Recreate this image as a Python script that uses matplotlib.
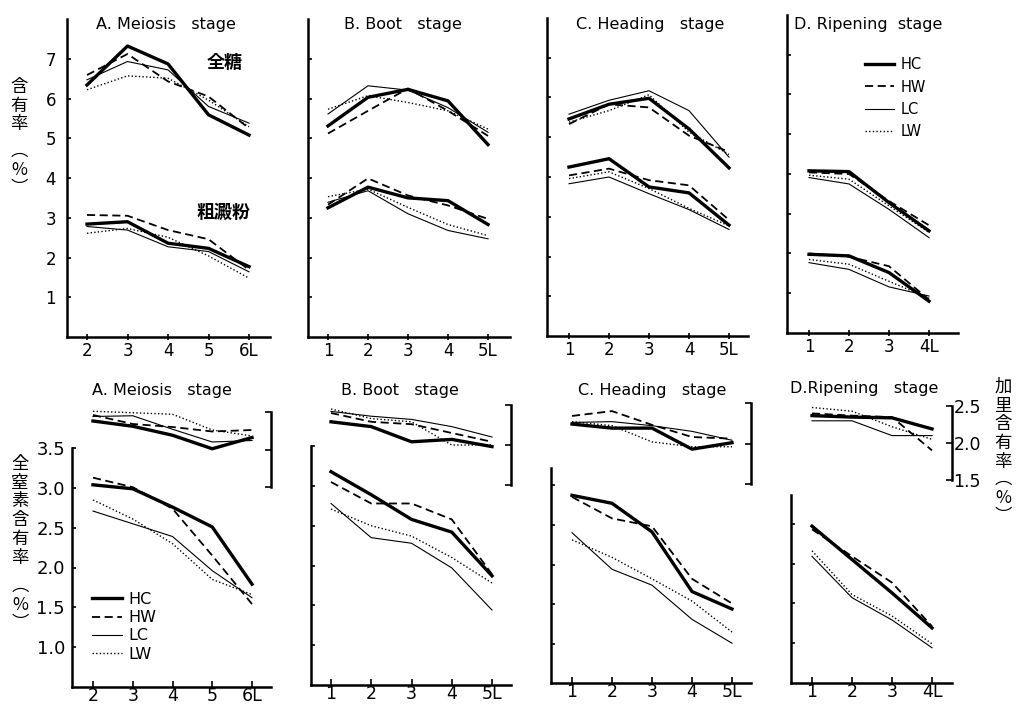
import matplotlib
matplotlib.use("Agg")
import matplotlib.pyplot as plt

plt.rcParams['font.family'] = ['DejaVu Sans', 'Noto Sans CJK JP']

# leaf positions (x axis) for each stage
leaf_A = [2, 3, 4, 5, 6]
leaf_A_labels = ["2", "3", "4", "5", "6L"]
leaf_B = [1, 2, 3, 4, 5]
leaf_B_labels = ["1", "2", "3", "4", "5L"]
leaf_C = [1, 2, 3, 4, 5]
leaf_C_labels = ["1", "2", "3", "4", "5L"]
leaf_D = [1, 2, 3, 4]
leaf_D_labels = ["1", "2", "3", "4L"]

treatments = ["HC", "HW", "LC", "LW"]

# total sugar (%)
sugar_A = {"HC": [6.34, 7.32, 6.87, 5.59, 5.08], "HW": [6.59, 7.12, 6.43, 6.05, 5.25],
           "LC": [6.47, 6.93, 6.72, 5.80, 5.38], "LW": [6.22, 6.57, 6.51, 5.96, 5.29]}
sugar_B = {"HC": [5.31, 6.03, 6.23, 5.94, 4.84], "HW": [5.12, 5.69, 6.25, 5.69, 5.06],
           "LC": [5.61, 6.32, 6.21, 5.77, 5.15], "LW": [5.73, 6.07, 5.90, 5.69, 5.23]}
sugar_C = {"HC": [5.46, 5.83, 5.98, 5.21, 4.23], "HW": [5.33, 5.83, 5.75, 5.04, 4.63],
           "LC": [5.58, 5.93, 6.17, 5.67, 4.50], "LW": [5.38, 5.67, 6.07, 5.13, 4.57]}
sugar_D = {"HC": [4.08, 4.06, 3.28, 2.57], "HW": [4.04, 4.00, 3.32, 2.71],
           "LC": [3.91, 3.75, 3.11, 2.40], "LW": [3.97, 3.87, 3.20, 2.53]}

# crude starch (%)
starch_A = {"HC": [2.84, 2.90, 2.36, 2.23, 1.77], "HW": [3.07, 3.05, 2.69, 2.46, 1.69],
            "LC": [2.78, 2.69, 2.27, 2.15, 1.64], "LW": [2.61, 2.73, 2.51, 2.04, 1.48]}
starch_B = {"HC": [3.25, 3.77, 3.50, 3.43, 2.83], "HW": [3.33, 3.99, 3.56, 3.31, 2.97],
            "LC": [3.39, 3.68, 3.10, 2.68, 2.47], "LW": [3.53, 3.72, 3.26, 2.83, 2.55]}
starch_C = {"HC": [4.25, 4.46, 3.75, 3.60, 2.79], "HW": [4.04, 4.21, 3.92, 3.79, 2.92],
            "LC": [3.83, 4.00, 3.58, 3.18, 2.68], "LW": [3.96, 4.13, 3.71, 3.21, 2.77]}
starch_D = {"HC": [1.98, 1.94, 1.52, 0.80], "HW": [2.00, 1.92, 1.68, 0.84],
            "LC": [1.77, 1.60, 1.16, 0.93], "LW": [1.85, 1.73, 1.30, 0.88]}

# total nitrogen (%)
nitro_A = {"HC": [3.04, 2.99, 2.76, 2.51, 1.79], "HW": [3.13, 3.01, 2.74, 2.15, 1.54],
           "LC": [2.71, 2.55, 2.39, 1.96, 1.62], "LW": [2.85, 2.61, 2.30, 1.85, 1.66]}
nitro_B = {"HC": [3.18, 2.89, 2.58, 2.42, 1.87], "HW": [3.05, 2.78, 2.78, 2.58, 1.89],
           "LC": [2.78, 2.35, 2.28, 1.97, 1.44], "LW": [2.71, 2.50, 2.37, 2.10, 1.78]}
nitro_C = {"HC": [2.87, 2.77, 2.41, 1.66, 1.44], "HW": [2.85, 2.58, 2.48, 1.82, 1.51],
           "LC": [2.40, 1.94, 1.74, 1.31, 1.01], "LW": [2.31, 2.09, 1.82, 1.54, 1.15]}
nitro_D = {"HC": [2.47, 2.05, 1.63, 1.19], "HW": [2.43, 2.09, 1.76, 1.21],
           "LC": [2.09, 1.57, 1.29, 0.94], "LW": [2.16, 1.61, 1.34, 0.99]}

# potassium (%)
potas_A = {"HC": [2.38, 2.31, 2.19, 2.01, 2.16], "HW": [2.46, 2.34, 2.30, 2.24, 2.26],
           "LC": [2.44, 2.45, 2.27, 2.10, 2.12], "LW": [2.51, 2.49, 2.47, 2.26, 2.18]}
potas_B = {"HC": [2.29, 2.23, 2.04, 2.07, 1.98], "HW": [2.40, 2.29, 2.26, 2.15, 2.04],
           "LC": [2.42, 2.36, 2.32, 2.23, 2.10], "LW": [2.45, 2.33, 2.29, 2.00, 2.00]}
potas_C = {"HC": [2.24, 2.19, 2.19, 1.93, 2.01], "HW": [2.34, 2.40, 2.23, 2.08, 2.06],
           "LC": [2.26, 2.27, 2.22, 2.15, 2.04], "LW": [2.27, 2.22, 2.02, 1.96, 1.96]}
potas_D = {"HC": [2.37, 2.35, 2.34, 2.19], "HW": [2.40, 2.37, 2.35, 1.90],
           "LC": [2.30, 2.30, 2.10, 2.10], "LW": [2.48, 2.43, 2.22, 2.05]}

titles_top = ["A. Meiosis   stage", "B. Boot   stage", "C. Heading   stage", "D. Ripening  stage"]
titles_bot = ["A. Meiosis   stage", "B. Boot   stage", "C. Heading   stage", "D.Ripening   stage"]

styles = {
    "HC": dict(color="black", lw=2.4, ls="-"),
    "HW": dict(color="black", lw=1.3, ls=(0, (4.5, 2.5))),
    "LC": dict(color="black", lw=0.8, ls="-"),
    "LW": dict(color="black", lw=1.0, ls=(0, (1, 1.6))),
}

W, H = 1021, 706
fig = plt.figure(figsize=(W / 100, H / 100), dpi=100)
cjk = ['Noto Sans CJK JP', 'DejaVu Sans']


def px_axes(left, right, top, bottom):
    return fig.add_axes([left / W, 1 - bottom / H, (right - left) / W, (bottom - top) / H])


def xlim_from(p0, v0, p1, v1, left, right):
    s = (p1 - p0) / (v1 - v0)
    return v0 + (left - p0) / s, v0 + (right - p0) / s


def ylim_from(p_ref, v_ref, scale, top, bottom):
    return v_ref - (bottom - p_ref) / scale, v_ref + (p_ref - top) / scale


def fig_text(x, y, s, **kw):
    fig.text(x / W, 1 - y / H, s, **kw)


def plain_axes(ax):
    ax.spines['top'].set_visible(False)
    ax.spines['right'].set_visible(False)
    ax.spines['left'].set_linewidth(1.8)
    ax.spines['bottom'].set_linewidth(1.8)
    ax.patch.set_alpha(0)
    ax.tick_params(axis='x', direction='inout', length=5, width=1.2, labelsize=12, pad=1)
    ax.tick_params(axis='y', direction='in', length=3, width=1.2, labelsize=12, pad=8)


# ---------- top row: sugar and starch ----------
top_geom = [  # left, right, tick px first, tick px last, top, bottom
    (67, 270, 87, 249, 19, 337),
    (308, 510, 328, 488, 19, 337),
    (547, 748, 569, 729, 18, 336),
    (787, 958, 809, 929, 15, 333),
]
top_leaves = [(leaf_A, leaf_A_labels), (leaf_B, leaf_B_labels),
              (leaf_C, leaf_C_labels), (leaf_D, leaf_D_labels)]
top_sugar = [sugar_A, sugar_B, sugar_C, sugar_D]
top_starch = [starch_A, starch_B, starch_C, starch_D]
title_top_x = [166, 403, 650, 868]

top_axes = []
for i in range(4):
    l, r, p0, p1, t, b = top_geom[i]
    xs, xl = top_leaves[i]
    ax = px_axes(l, r, t, b)
    plain_axes(ax)
    for tr in treatments:
        ax.plot(xs, top_sugar[i][tr], **styles[tr], label=tr)
        ax.plot(xs, top_starch[i][tr], **styles[tr])
    ax.set_xlim(*xlim_from(p0, xs[0], p1, xs[-1], l, r))
    ax.set_ylim(0, 8)
    ax.set_xticks(xs)
    ax.set_xticklabels(xl)
    ax.set_yticks([1, 2, 3, 4, 5, 6, 7])
    if i > 0:
        ax.set_yticklabels([])
    fig_text(title_top_x[i], 25, titles_top[i], ha='center', va='center', fontsize=11.5)
    top_axes.append(ax)

fig_text(225, 62, "全糖", ha='center', va='center', fontsize=13, fontweight='bold', family=cjk)
fig_text(223, 212, "粗澱粉", ha='center', va='center', fontsize=13, fontweight='bold', family=cjk)

h, lab = top_axes[3].get_legend_handles_labels()
top_axes[3].legend(h, lab, loc='upper left', bbox_to_anchor=(858 / W, 1 - 50 / H),
                   bbox_transform=fig.transFigure, frameon=False, fontsize=10.5,
                   handlelength=2.0, handletextpad=0.4, labelspacing=0.5, borderpad=0)

# ---------- bottom row: nitrogen (left) and potassium (right) ----------
bot_geom = [  # left, right, tick px first, tick px last, bottom
    (72, 271, 93, 252, 687),
    (311, 511, 331, 492, 685),
    (551, 751, 572, 732, 683),
    (791, 952, 812, 932, 683),
]
n_ref = [488, 486, 485, 484]      # px of N = 3.0
n_top = [3.5, 3.5, 3.21, 2.86]     # top end of N spine
k_ref = [(412, 487), (405, 485), (403, 484), (406, 480)]  # px of K 2.5 and 1.5
bot_nitro = [nitro_A, nitro_B, nitro_C, nitro_D]
bot_potas = [potas_A, potas_B, potas_C, potas_D]
title_bot = [(162, 391), (400, 391), (652, 391), (864, 388)]
n_scale = 79.5
ax_top = 398

bot_axes = []
for i in range(4):
    l, r, p0, p1, b = bot_geom[i]
    xs, xl = top_leaves[i]
    ax = px_axes(l, r, ax_top, b)
    plain_axes(ax)
    ax.tick_params(axis='x', direction='in', length=4, labelsize=12.5, pad=0)
    ax.tick_params(axis='y', labelsize=13, pad=5)
    for tr in treatments:
        ax.plot(xs, bot_nitro[i][tr], **styles[tr], label=tr)
    xl0 = xlim_from(p0, xs[0], p1, xs[-1], l, r)
    ax.set_xlim(*xl0)
    y0, y1 = ylim_from(n_ref[i], 3.0, n_scale, ax_top, b)
    ax.set_ylim(y0, y1)
    ax.spines['left'].set_bounds(y0, n_top[i])
    yt = [v for v in [1.0, 1.5, 2.0, 2.5, 3.0, 3.5] if v <= n_top[i] + 0.01]
    ax.set_yticks(yt)
    if i == 0:
        ax.set_yticklabels([f"{v:.1f}" for v in yt])
    else:
        ax.set_yticklabels([])
    ax.set_xticks(xs)
    ax.set_xticklabels(xl)

    k_hi, k_lo = k_ref[i]
    ks = (k_lo - k_hi) / 1.0
    axk = ax.twinx()
    axk.set_position(ax.get_position())
    for tr in treatments:
        axk.plot(xs, bot_potas[i][tr], **styles[tr], clip_on=False)
    axk.set_xlim(*xl0)
    axk.set_ylim(*ylim_from(k_hi, 2.5, ks, ax_top, b))
    for s in ['top', 'left', 'bottom']:
        axk.spines[s].set_visible(False)
    axk.spines['right'].set_bounds(1.5, 2.5)
    axk.spines['right'].set_linewidth(1.8)
    axk.set_yticks([1.5, 2.0, 2.5])
    axk.tick_params(axis='y', direction='in', length=4, width=1.2, labelsize=12.5, pad=1)
    if i < 3:
        axk.set_yticklabels([])
    else:
        axk.set_yticklabels(["1.5", "2.0", "2.5"])
    fig_text(title_bot[i][0], title_bot[i][1], titles_bot[i], ha='center', va='center', fontsize=11.5)
    bot_axes.append(ax)

h, lab = bot_axes[0].get_legend_handles_labels()
bot_axes[0].legend(h, lab, loc='upper left', bbox_to_anchor=(84 / W, 1 - 584 / H),
                   bbox_transform=fig.transFigure, frameon=False, fontsize=11.5,
                   handlelength=1.9, handletextpad=0.35, labelspacing=0.2, borderpad=0)

# vertical axis titles
vkw = dict(ha='center', va='top', fontsize=12.5, family=cjk, linespacing=1.05)
fig_text(19, 78, "含\n有\n率", **vkw)
fig_text(19, 142, "︵\n%\n︶", **vkw)
fig_text(20, 455, "全\n窒\n素\n含\n有\n率", **vkw)
fig_text(20, 577, "︵\n%\n︶", **vkw)
fig_text(1003, 378, "加\n里\n含\n有\n率", **vkw)
fig_text(1003, 470, "︵\n%\n︶", **vkw)

fig.savefig("out.png", dpi=100)
